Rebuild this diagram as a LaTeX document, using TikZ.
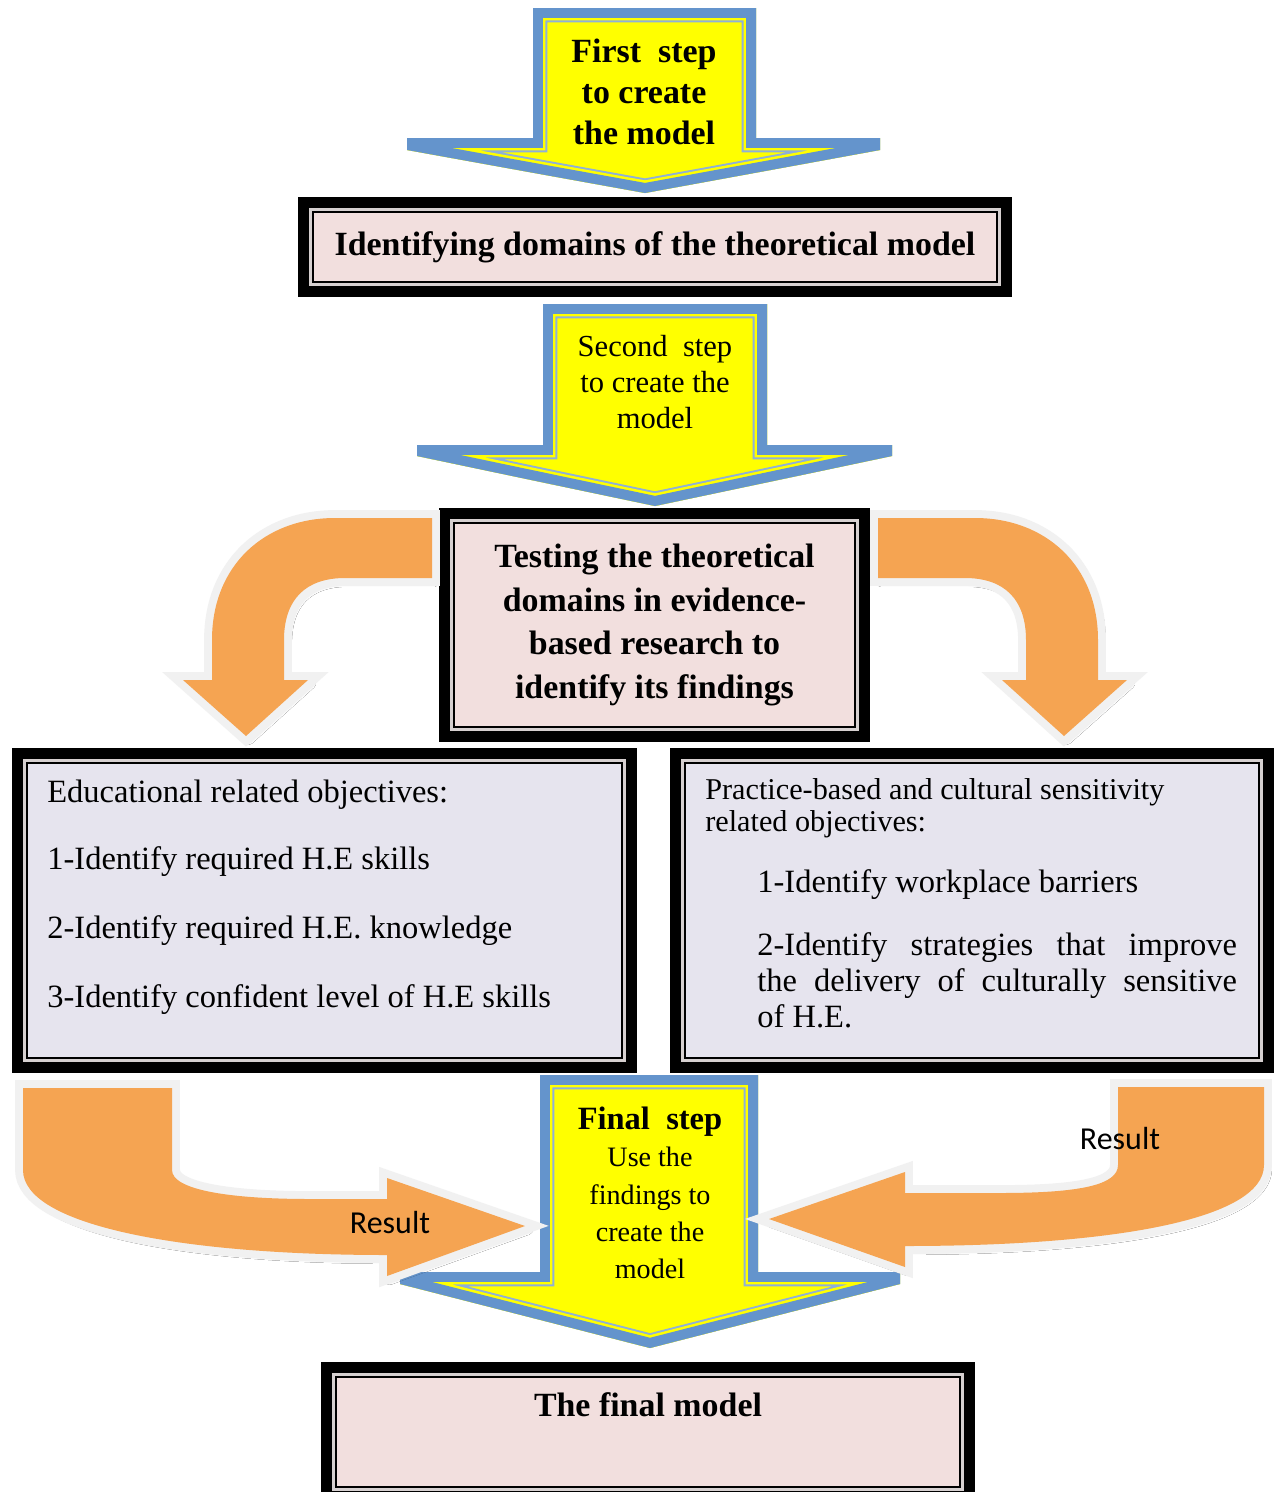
\documentclass[tikz,border=0pt]{standalone}
\usepackage{fontspec}
\setmainfont{Liberation Serif}
\newfontfamily\labelfont{Carlito}
\usetikzlibrary{shadows.blur}

\definecolor{stepblue}{HTML}{6494CC}
\definecolor{stepline}{HTML}{8FB0D8}
\definecolor{stepyellow}{HTML}{FFFF00}
\definecolor{bendorange}{HTML}{F5A452}
\definecolor{rim}{HTML}{F1F1F1}
\definecolor{boxpink}{HTML}{F2DFDE}
\definecolor{boxlilac}{HTML}{E6E4EE}
\definecolor{framegap}{HTML}{D6D0D0}

\tikzset{
  frame/.style={preaction={draw=black,line width=17pt},
    preaction={draw=framegap,line width=5pt},
    draw=black,line width=0.9pt,inner sep=0pt,outer sep=0pt},
  pinkbox/.style={frame,fill=boxpink},
  lilacbox/.style={frame,fill=boxlilac},
  orangebend/.style={blur shadow={shadow xshift=1.5pt,shadow yshift=-2pt,
      shadow blur radius=3pt,shadow opacity=30,shadow blur steps=6},
    preaction={draw=rim,line width=9pt,line join=miter},
    fill=bendorange},
  titlefont/.style={font=\bfseries\fontsize{19.3}{24.8}\selectfont,align=center},
  bodyfont/.style={font=\fontsize{18.5}{22}\selectfont,anchor=base west,inner sep=0pt},
  smallbody/.style={font=\fontsize{17.2}{20}\selectfont,anchor=base west,inner sep=0pt},
  resultlabel/.style={font=\labelfont\fontsize{18.2}{20}\selectfont,inner sep=0pt},
}

% yellow step arrow with a blue rim and a thin inner blue line
\newcommand\drawstep[1]{%
  \begin{scope}
    \clip #1;
    \fill[stepyellow] #1;
    \draw[stepline,line width=16.4pt,line join=miter] #1;
    \draw[stepyellow,line width=14.2pt,line join=miter] #1;
    \draw[stepblue,line width=11.3pt,line join=miter] #1;
  \end{scope}}

\begin{document}
\begin{tikzpicture}[x=0.02cm,y=-0.02cm]
\useasboundingbox[fill=white] (0,0) rectangle (1275,1492);

% ---- first step ----
\drawstep{(533,8) -- (756,8) -- (756,138) -- (880,138) -- (880,150) -- (645,193) -- (407,150) -- (407,138) -- (533,138) -- cycle}
\node[titlefont,font=\bfseries\fontsize{19.3}{23.2}\selectfont] (step1) at (644,92) {First\ \ step\\to create\\the model};

\node[pinkbox,minimum width=13.68cm,minimum height=1.4cm,titlefont] (domains) at (655,247)
  {Identifying domains of the theoretical model};

% ---- second step ----
\drawstep{(543,304) -- (767,304) -- (767,445) -- (892,445) -- (892,456) -- (655,506) -- (417,456) -- (417,445) -- (543,445) -- cycle}
\node[align=center,font=\fontsize{17.4}{20.4}\selectfont] (step2) at (655,382) {Second\ \ step\\to create the\\model};

\node[pinkbox,minimum width=8.02cm,minimum height=4.08cm,titlefont] (testing) at (654.5,625)
  {Testing the theoretical\\domains in evidence-\\based research to\\identify its findings};

% ---- curved arrows out of the testing box ----
\path[orangebend] (432,518) -- (335,518) .. controls (265,518) and (212,565) .. (212,640)
  -- (212,680) -- (183,680) -- (246,736) -- (308,680) -- (284,680) -- (284,640)
  .. controls (284,600) and (305,578) .. (345,578) -- (432,578) -- cycle;
\path[orangebend] (878,518) -- (975,518) .. controls (1045,518) and (1098,565) .. (1098,640)
  -- (1098,680) -- (1127,680) -- (1064,736) -- (1002,680) -- (1026,680) -- (1026,640)
  .. controls (1026,600) and (1005,578) .. (965,578) -- (878,578) -- cycle;

% ---- objectives ----
\node[lilacbox,minimum width=11.9cm,minimum height=5.9cm] (eduobj) at (324.5,910.5) {};
\node[bodyfont] (eduhead) at (47,802) {Educational related objectives:};
\node[bodyfont] (edu1) at (47,869) {1-Identify required H.E skills};
\node[bodyfont] (edu2) at (47,938) {2-Identify required H.E. knowledge};
\node[bodyfont] (edu3) at (47,1007) {3-Identify confident level of H.E skills};

\node[lilacbox,minimum width=11.48cm,minimum height=5.9cm] (pracobj) at (972,910.5) {};
\node[smallbody] (prachead) at (705,799) {Practice-based and cultural sensitivity};
\node[smallbody] (prachead2) at (705,831) {related objectives:};
\node[bodyfont] (prac1) at (757,892) {1-Identify workplace barriers};
\node[bodyfont] (prac2a) at (757,955) {\makebox[273pt][s]{2-Identify strategies that improve}};
\node[bodyfont] (prac2b) at (757,991) {\makebox[273pt][s]{the delivery of culturally sensitive}};
\node[bodyfont] (prac2c) at (757,1027) {of H.E.};

% ---- final step ----
\drawstep{(540,1075) -- (758,1075) -- (758,1272) -- (900,1272) -- (900,1284) -- (650,1348) -- (400,1284) -- (400,1272) -- (540,1272) -- cycle}
\node[align=center,font=\fontsize{16}{21.2}\selectfont] (step3) at (650,1193)
  {{\bfseries\fontsize{18.5}{21.2}\selectfont Final\ \ step}\\Use the\\findings to\\create the\\model};

\path[orangebend] (23,1088) -- (172,1088) -- (172,1170) .. controls (172,1190) and (230,1199) .. (310,1199)
  -- (387,1199) -- (387,1178) -- (525,1226) -- (387,1276) -- (387,1255)
  .. controls (180,1255) and (23,1225) .. (23,1170) -- cycle;
\path[orangebend] (1118,1087) -- (1264,1087) -- (1264,1165) .. controls (1264,1220) and (1110,1246) .. (905,1246)
  -- (905,1267) -- (769,1219) -- (905,1172) -- (905,1193) -- (1000,1193)
  .. controls (1080,1193) and (1118,1185) .. (1118,1165) -- cycle;
\node[resultlabel] (resleft) at (390,1222) {Result};
\node[resultlabel] (resright) at (1120,1138) {Result};

% ---- final model (its frame runs past the lower edge) ----
\node[pinkbox,minimum width=12.48cm,minimum height=2.2cm] (final) at (648,1432) {};
\node[titlefont] (finaltext) at (648,1405) {The final model};
\end{tikzpicture}
\end{document}
